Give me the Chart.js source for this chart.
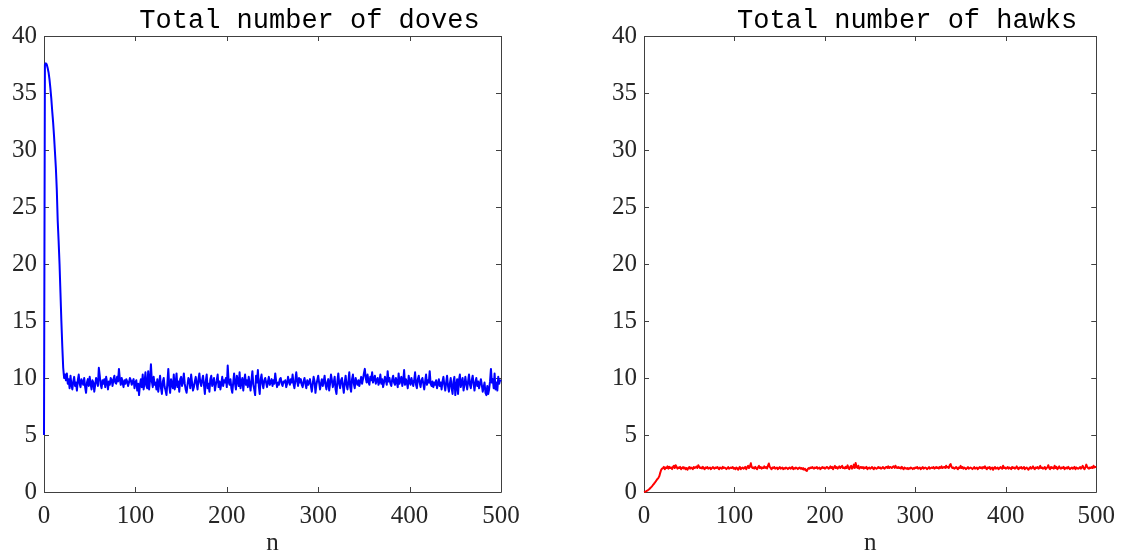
<!DOCTYPE html>
<html>
<head>
<meta charset="utf-8">
<script src="https://cdn.jsdelivr.net/npm/chart.js@4"></script>
<style>
  html, body { margin: 0; padding: 0; background: #fff; }
  #wrap { position: relative; width: 1124px; height: 558px; }
  #wrap div { position: absolute; top: 0; height: 558px; }
</style>
</head>
<body>
<div id="wrap">
  <div style="left:0;width:560px"><canvas id="doves"></canvas></div>
  <div style="left:560px;width:564px"><canvas id="hawks"></canvas></div>
</div>
<script>
// valores, uno por paso n = 0..500
const xTicks = [0, 100, 200, 300, 400, 500];
const yTicks = [0, 5, 10, 15, 20, 25, 30, 35, 40];

const doves = [
  5.0, 37.5, 37.6, 37.5, 37.2, 36.8, 36.2, 35.4, 34.5, 33.4, 32.4, 31.2, 29.8, 28.4, 26.5, 23.8, 22.0, 20.0, 17.5, 15.0, 12.8, 10.9, 10.0, 10.3,
  9.8, 10.4, 9.5, 9.9, 9.1, 10.2, 9.4, 9.0, 9.7, 10.1, 9.3, 9.6, 8.9, 9.8, 10.3, 9.5, 9.2, 9.9, 9.6, 9.4,
  10.0, 9.2, 8.7, 9.6, 9.9, 9.3, 10.1, 9.5, 9.0, 9.8, 9.6, 8.8, 9.4, 10.0, 9.7, 9.3, 10.9, 10.2, 9.4, 9.1,
  9.8, 9.5, 9.9, 9.2, 10.1, 9.6, 9.0, 9.7, 9.4, 10.0, 9.8, 9.3, 9.9, 10.2, 9.6, 9.5, 10.1, 9.7, 10.8, 9.9,
  9.4, 10.0, 9.6, 9.2, 9.8, 9.5, 9.9, 9.7, 9.3, 9.6, 10.0, 9.8, 9.4, 9.7, 9.9, 9.1, 9.6, 9.8, 8.9, 9.5,
  8.5, 9.4, 9.9, 9.2, 10.3, 9.0, 9.6, 10.5, 9.3, 9.1, 10.6, 9.0, 9.8, 11.2, 9.7, 9.2, 10.1, 9.4, 9.6, 9.0,
  9.9, 8.8, 9.5, 10.2, 9.1, 8.6, 9.7, 10.0, 9.2, 8.9, 8.5, 9.6, 10.8, 9.3, 8.7, 9.9, 9.4, 9.1, 10.3, 9.0,
  9.5, 10.4, 9.2, 9.7, 8.8, 9.9, 10.1, 9.3, 9.6, 10.4, 9.5, 9.0, 8.7, 9.4, 10.0, 9.8, 9.1, 10.3, 9.6, 8.9,
  9.2, 9.7, 10.1, 9.5, 9.0, 9.9, 10.4, 9.6, 9.3, 9.8, 10.2, 9.4, 8.6, 9.7, 10.3, 9.1, 9.5, 8.8, 9.9, 10.2,
  9.3, 9.6, 10.0, 8.9, 9.4, 9.8, 10.3, 9.2, 9.7, 9.0, 9.5, 10.1, 9.3, 9.8, 9.6, 10.0, 9.2, 11.1, 9.7, 9.4,
  9.9, 9.1, 8.7, 9.6, 10.4, 9.5, 9.0, 10.2, 9.8, 9.3, 10.5, 9.1, 9.6, 10.0, 8.9, 9.7, 10.3, 9.4, 9.8, 9.2,
  10.1, 9.5, 8.9, 9.8, 10.6, 9.4, 9.0, 8.5, 10.2, 9.6, 10.7, 9.3, 8.6, 9.9, 10.3, 9.5, 9.1, 9.8, 10.0, 9.6,
  9.2, 9.7, 10.1, 9.4, 9.6, 9.9, 9.3, 9.8, 9.5, 10.4, 9.7, 9.2, 9.6, 9.4, 9.9, 10.0, 9.5, 9.3, 9.7, 9.6,
  9.8, 9.2, 9.5, 10.1, 9.7, 9.4, 9.9, 9.6, 10.3, 9.5, 9.1, 9.8, 10.5, 9.7, 9.3, 10.0, 9.6, 9.9, 9.4, 9.2,
  9.7, 10.0, 9.5, 9.1, 9.8, 9.4, 9.6, 9.9, 9.3, 8.8, 9.5, 10.1, 9.7, 8.7, 9.4, 9.8, 10.2, 9.6, 9.0, 9.5,
  9.9, 9.3, 9.7, 10.2, 9.4, 9.0, 9.6, 9.9, 8.9, 9.5, 10.3, 9.8, 9.2, 9.6, 10.1, 9.0, 8.6, 9.7, 10.4, 9.5,
  9.1, 9.8, 10.0, 9.3, 8.7, 9.6, 10.2, 9.4, 9.0, 9.7, 10.5, 9.2, 8.8, 9.9, 10.3, 9.5, 9.1, 10.0, 9.6, 9.4,
  9.8, 9.3, 9.7, 10.1, 9.5, 9.9, 10.4, 10.8, 10.0, 9.6, 10.3, 9.7, 9.4, 10.1, 9.8, 10.5, 9.6, 9.9, 10.2, 9.5,
  9.8, 10.0, 9.4, 9.7, 10.3, 9.5, 9.9, 9.2, 9.6, 10.1, 9.8, 9.4, 10.6, 9.7, 10.0, 9.5, 9.3, 9.9, 10.2, 9.6,
  9.4, 10.0, 9.7, 9.2, 10.4, 9.5, 9.8, 10.1, 9.3, 9.7, 10.7, 9.4, 9.9, 9.6, 9.1, 10.2, 9.7, 9.4, 10.0, 9.6,
  9.3, 9.8, 10.5, 9.4, 9.1, 9.9, 10.2, 9.6, 9.2, 9.8, 10.0, 9.5, 9.0, 9.7, 10.3, 9.4, 9.8, 9.6, 10.6, 9.5,
  9.3, 9.7, 9.2, 9.6, 9.4, 9.8, 9.1, 9.5, 9.9, 9.3, 9.6, 9.0, 9.7, 10.1, 9.4, 8.9, 9.6, 10.2, 9.3, 8.8,
  9.5, 10.0, 9.1, 8.6, 9.7, 10.1, 8.5, 9.3, 9.9, 8.6, 9.8, 10.3, 9.2, 9.6, 10.0, 8.9, 9.4, 10.1, 9.5, 9.0,
  9.7, 10.3, 9.4, 9.1, 9.8, 10.2, 9.5, 8.9, 9.6, 10.0, 9.3, 9.7, 9.1, 9.5, 9.9, 9.4, 8.8, 9.2, 9.6, 8.7,
  8.5, 9.3, 8.6, 9.0, 9.7, 10.8, 9.6, 9.9, 9.1, 10.4, 9.0, 9.6, 8.9, 10.1, 9.5, 9.8, 9.7
];

const hawks = [
  0.0, 0.02, 0.05, 0.09, 0.14, 0.2, 0.27, 0.35, 0.43, 0.52, 0.62, 0.72, 0.82, 0.93, 1.05, 1.15, 1.25, 1.4, 1.7, 1.95, 2.05,
  2.1, 2.2, 2.0, 2.15, 2.1, 2.25, 2.05, 2.2, 2.1, 2.15, 2.0, 2.2, 2.3, 2.1, 2.35, 2.2, 2.05, 2.15, 2.1, 2.2,
  2.0, 2.1, 2.2, 2.05, 2.15, 2.0, 2.1, 1.95, 2.1, 2.2, 2.05, 2.15, 2.1, 2.0, 2.2, 2.1, 2.15, 2.25, 2.1, 2.35,
  2.2, 2.1, 2.15, 2.05, 2.2, 2.1, 2.0, 2.15, 2.1, 2.2, 2.05, 2.1, 2.15, 2.0, 2.1, 2.2, 2.1, 2.05, 2.15, 2.1,
  2.2, 2.1, 2.0, 2.15, 2.1, 2.05, 2.2, 2.1, 2.15, 2.1, 2.0, 2.1, 2.2, 2.05, 2.1, 2.15, 2.1, 2.2, 2.05, 2.1,
  2.0, 2.15, 2.1, 1.95, 2.1, 2.2, 2.0, 2.1, 2.15, 2.05, 2.1, 2.2, 2.0, 2.15, 2.3, 2.1, 2.2, 2.55, 2.2, 2.1,
  2.15, 2.05, 2.2, 2.1, 2.0, 2.15, 2.3, 2.1, 2.2, 2.05, 2.15, 2.1, 2.25, 2.1, 2.2, 2.05, 2.3, 2.5, 2.2, 2.1,
  2.0, 2.15, 2.1, 2.2, 2.05, 2.1, 2.15, 2.0, 2.1, 2.2, 2.05, 2.1, 2.15, 2.0, 2.1, 2.05, 2.15, 2.1, 2.0, 2.1,
  2.15, 2.05, 2.1, 2.2, 2.0, 2.1, 2.05, 2.15, 2.1, 2.0, 2.1, 2.15, 2.05, 2.1, 2.0, 2.1, 1.95, 2.05, 1.9, 1.85,
  2.0, 2.1, 2.05, 2.15, 2.1, 2.2, 2.1, 2.05, 2.15, 2.1, 2.2, 2.05, 2.1, 2.15, 2.0, 2.1, 2.2, 2.1, 2.15, 2.05,
  2.1, 2.2, 2.15, 2.05, 2.1, 2.25, 2.1, 2.2, 2.0, 2.15, 2.3, 2.1, 2.2, 2.05, 2.15, 2.25, 2.1, 2.2, 2.3, 2.1,
  2.15, 2.05, 2.2, 2.1, 2.35, 2.1, 2.0, 2.2, 2.3, 2.05, 2.15, 2.4, 2.1, 2.55, 2.2, 2.1, 2.3, 2.05, 2.15, 2.2,
  2.1, 2.2, 2.05, 2.15, 2.1, 2.2, 2.0, 2.1, 2.15, 2.05, 2.1, 2.2, 2.1, 2.0, 2.15, 2.1, 2.05, 2.1, 2.2, 2.1,
  2.15, 2.05, 2.1, 2.2, 2.1, 2.05, 2.15, 2.2, 2.1, 2.25, 2.1, 2.2, 2.15, 2.1, 2.2, 2.25, 2.1, 2.3, 2.15, 2.1,
  2.2, 2.1, 2.15, 2.05, 2.2, 2.1, 2.0, 2.15, 2.1, 2.05, 2.1, 2.0, 2.1, 2.05, 2.15, 2.1, 2.0, 2.1, 2.05, 2.15,
  2.1, 2.2, 2.05, 2.1, 2.15, 2.0, 2.1, 2.2, 2.05, 2.1, 2.15, 2.1, 2.0, 2.1, 2.2, 2.05, 2.1, 2.15, 2.1, 2.2,
  2.05, 2.1, 2.2, 2.1, 2.15, 2.05, 2.2, 2.1, 2.25, 2.1, 2.15, 2.2, 2.1, 2.3, 2.15, 2.2, 2.1, 2.35, 2.45, 2.2,
  2.1, 2.15, 2.05, 2.1, 2.2, 2.1, 2.0, 2.15, 2.1, 2.3, 2.1, 2.2, 2.05, 2.15, 2.1, 2.0, 2.1, 2.2, 2.05, 2.1,
  2.15, 2.1, 2.0, 2.1, 2.2, 2.05, 2.1, 2.15, 2.0, 2.1, 2.2, 2.1, 2.15, 2.05, 2.2, 2.1, 2.25, 2.1, 2.0, 2.15,
  2.1, 2.2, 2.0, 2.1, 2.15, 1.95, 2.1, 2.2, 2.05, 2.1, 2.15, 2.0, 2.1, 2.2, 2.1, 2.05, 2.3, 2.1, 2.15, 2.05,
  2.1, 2.2, 2.05, 2.15, 2.1, 2.0, 2.2, 2.1, 2.15, 2.05, 2.1, 2.25, 2.1, 2.0, 2.15, 2.1, 2.2, 2.05, 2.1, 2.2,
  2.0, 2.1, 2.15, 2.05, 1.95, 2.1, 2.2, 2.05, 2.1, 2.25, 2.1, 2.0, 2.15, 2.1, 2.2, 2.05, 2.1, 2.3, 2.1, 2.15,
  2.05, 2.1, 2.2, 2.0, 2.1, 2.15, 2.35, 2.1, 2.0, 2.2, 2.1, 2.15, 2.05, 2.3, 2.1, 2.2, 2.0, 2.1, 2.25, 2.1,
  2.05, 2.15, 2.1, 2.2, 2.0, 2.1, 2.15, 2.05, 2.2, 2.1, 2.0, 2.1, 2.15, 2.05, 2.1, 2.2, 2.0, 2.15, 2.1, 2.05,
  2.1, 2.2, 2.05, 2.15, 2.3, 2.1, 2.0, 2.15, 2.4, 2.2, 2.1, 2.05, 2.15, 2.1, 2.2, 2.1, 2.3, 2.15, 2.2, 2.2
];

const axisColor = "#262626";
const serif = "Liberation Serif";

// caja completa con marcas hacia dentro, estilo MATLAB (debajo de las líneas)
const cajaMatlab = {
  id: "cajaMatlab",
  beforeDatasetsDraw(chart) {
    const { ctx, chartArea: a, scales } = chart;
    const largo = 5;
    ctx.save();
    ctx.strokeStyle = "#404040";
    ctx.lineWidth = 1;
    ctx.beginPath();
    ctx.rect(Math.round(a.left) + 0.5, Math.round(a.top) + 0.5, Math.round(a.right - a.left), Math.round(a.bottom - a.top));
    scales.x.ticks.forEach(t => {
      const px = Math.round(scales.x.getPixelForValue(t.value)) + 0.5;
      ctx.moveTo(px, a.bottom); ctx.lineTo(px, a.bottom - largo);
      ctx.moveTo(px, a.top); ctx.lineTo(px, a.top + largo);
    });
    scales.y.ticks.forEach(t => {
      const py = Math.round(scales.y.getPixelForValue(t.value)) + 0.5;
      ctx.moveTo(a.left, py); ctx.lineTo(a.left + largo, py);
      ctx.moveTo(a.right, py); ctx.lineTo(a.right - largo, py);
    });
    ctx.stroke();
    ctx.restore();
  },
  afterDraw(chart) {
    // título en letra monoespaciada
    const { ctx, chartArea: a } = chart;
    const opts = chart.options.plugins.cajaMatlab;
    ctx.save();
    ctx.fillStyle = "#000";
    ctx.font = "27px 'Liberation Mono', 'Courier New', monospace";
    ctx.textAlign = "center";
    ctx.textBaseline = "alphabetic";
    ctx.fillText(opts.titulo, (a.left + a.right) / 2 + opts.desplazamiento, 28);
    ctx.restore();
  }
};

function crearPanel(id, valores, color, titulo, anchoEjeY, margenDerecho) {
  const puntos = valores.map((v, i) => ({ x: i, y: v }));
  return new Chart(document.getElementById(id), {
    type: "line",
    data: {
      datasets: [{
        data: puntos,
        borderColor: color,
        borderWidth: 2,
        borderJoinStyle: "round",
        pointRadius: 0,
        fill: false,
        // tensión mínima para que Chart.js dibuje la polilínea completa, sin agrupar puntos por píxel
        tension: 0.0001,
        clip: 2
      }]
    },
    options: {
      responsive: true,
      maintainAspectRatio: false,
      animation: false,
      layout: { padding: { left: 0, right: margenDerecho, top: 36, bottom: 0 } },
      plugins: {
        legend: { display: false },
        tooltip: { enabled: false },
        cajaMatlab: { titulo: titulo, desplazamiento: 37 }
      },
      scales: {
        x: {
          type: "linear",
          min: 0,
          max: 500,
          afterBuildTicks: s => { s.ticks = xTicks.map(v => ({ value: v })); },
          afterFit: s => { s.height = 66; },
          grid: { display: false, drawTicks: false },
          border: { display: false },
          ticks: { color: axisColor, padding: 9, maxRotation: 0, font: { family: serif, size: 25 } },
          title: { display: true, text: "n", color: axisColor, padding: 0, font: { family: serif, size: 25 } }
        },
        y: {
          min: 0,
          max: 40,
          afterBuildTicks: s => { s.ticks = yTicks.map(v => ({ value: v })); },
          afterFit: s => { s.width = anchoEjeY; },
          grid: { display: false, drawTicks: false },
          border: { display: false },
          ticks: { color: axisColor, padding: 7, font: { family: serif, size: 25 } }
        }
      }
    },
    plugins: [cajaMatlab]
  });
}

crearPanel("doves", doves, "#0000ff", "Total number of doves", 44, 59);
crearPanel("hawks", hawks, "#ff0000", "Total number of hawks", 84, 24);
</script>
</body>
</html>
